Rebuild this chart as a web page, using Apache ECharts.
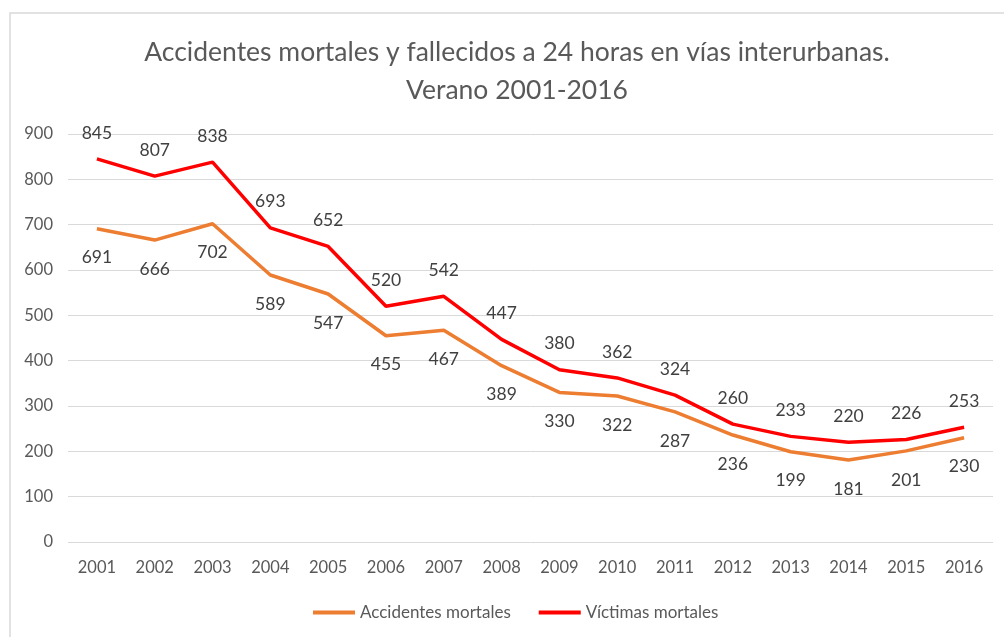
<!DOCTYPE html>
<html><head><meta charset="utf-8">
<script src="https://cdn.jsdelivr.net/npm/echarts@6/dist/echarts.min.js"></script>
<style>html,body{margin:0;padding:0;background:#fff}#c{width:1004px;height:637px}</style>
</head><body><div id="c"></div>
<script>
const years = ['2001','2002','2003','2004','2005','2006','2007','2008','2009','2010','2011','2012','2013','2014','2015','2016'];
const accidentes = [691,666,702,589,547,455,467,389,330,322,287,236,199,181,201,230];
const victimas = [845,807,838,693,652,520,542,447,380,362,324,260,233,220,226,253];
const seriesNames = ['Accidentes mortales','Víctimas mortales'];
const titleLines = ['Accidentes mortales y fallecidos a 24 horas en vías interurbanas.','Verano 2001-2016'];
const FONT = 'Lato, "Open Sans", sans-serif';
const chart = echarts.init(document.getElementById('c'));
chart.setOption({
  backgroundColor:'#fff',
  animation:false,
  graphic:[{type:'rect',shape:{x:10,y:13,width:1010,height:640},style:{fill:'none',stroke:'#d9d9d9',lineWidth:1.5},silent:true,z:-1}],
  title:{text:titleLines.join('\n'),left:512,textAlign:'center',top:28,textStyle:{fontFamily:FONT,fontSize:26.5,fontWeight:'normal',color:'#595959',lineHeight:38,align:'center'}},
  legend:{bottom:11,left:308,itemWidth:42,itemHeight:4,itemGap:28,icon:'rect',
    textStyle:{fontFamily:FONT,fontSize:17,color:'#595959'},data:seriesNames},
  grid:{left:68,right:11,top:134,bottom:95},
  xAxis:{type:'category',data:years,boundaryGap:true,
    axisLine:{show:false},axisTick:{show:false},
    axisLabel:{fontFamily:FONT,fontSize:16.5,color:'#595959',margin:17}},
  yAxis:{type:'value',min:0,max:900,interval:100,
    axisLine:{show:false},axisTick:{show:false},
    axisLabel:{fontFamily:FONT,fontSize:16.5,color:'#595959',margin:15},
    splitLine:{lineStyle:{color:'#d9d9d9',width:1}}},
  series:[
    {name:seriesNames[0],type:'line',data:accidentes,symbol:'circle',symbolSize:0,showSymbol:true,showAllSymbol:true,
     lineStyle:{color:'#ED7D31',width:3.5},itemStyle:{color:'#ED7D31'},
     label:{show:true,position:'bottom',distance:20,fontFamily:FONT,fontSize:17.5,color:'#404040'}},
    {name:seriesNames[1],type:'line',data:victimas,symbol:'circle',symbolSize:0,showSymbol:true,showAllSymbol:true,
     lineStyle:{color:'#FF0000',width:3.5},itemStyle:{color:'#FF0000'},
     label:{show:true,position:'top',distance:17,fontFamily:FONT,fontSize:17.5,color:'#404040'}}
  ]
});
</script></body></html>
